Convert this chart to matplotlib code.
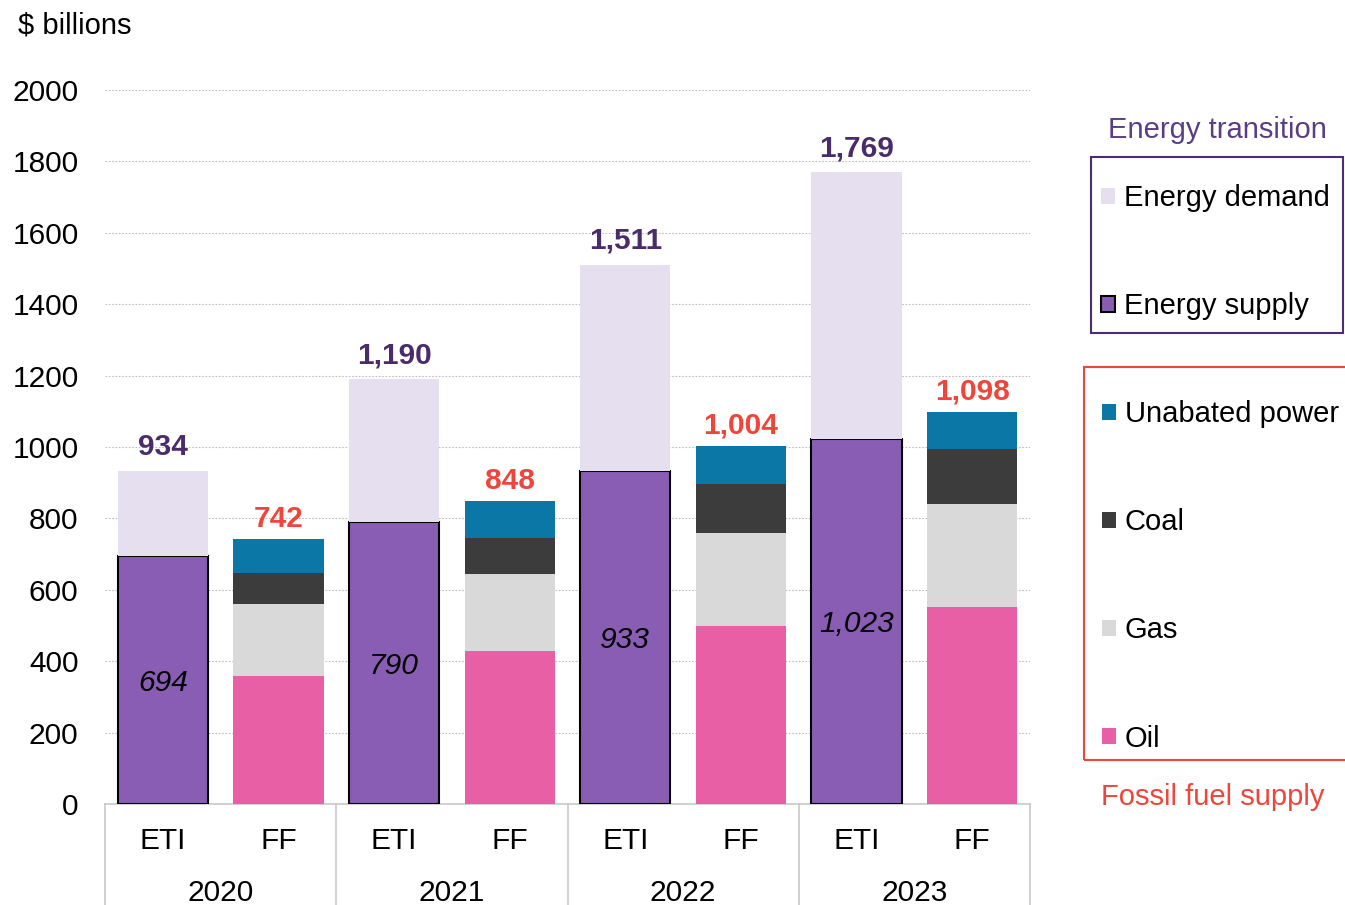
import numpy as np
import matplotlib
matplotlib.use('Agg')
from matplotlib import pyplot as plt
from matplotlib.patches import Rectangle

plt.rcParams['font.family'] = ['Liberation Sans', 'DejaVu Sans']

# data ($ billions)
years = ['2020', '2021', '2022', '2023']
energy_supply = [694, 790, 933, 1023]
energy_demand = [240, 400, 578, 746]
eti_totals = [934, 1190, 1511, 1769]

oil = [358, 429, 499, 552]
gas = [202, 215, 260, 288]
coal = [87, 101, 137, 154]
unabated_power = [95, 103, 108, 104]
ff_totals = [742, 848, 1004, 1098]

c_demand = '#e6dff0'
c_supply = '#8a5db4'
c_unabated = '#0b77a6'
c_coal = '#3c3c3c'
c_gas = '#d9d9d9'
c_oil = '#e85fa6'
c_purple_txt = '#4b2c6b'
c_red = '#f0453a'
c_sep = '#c8c8c8'

fs = 21.5

fig = plt.figure(figsize=(13.45, 9.05), dpi=100)
W, H = 1345, 905
ax = fig.add_axes([105 / W, 1 - 804 / H, 925 / W, 714 / H])

n = len(years)
x_eti = np.arange(n) * 2 + 0.5
x_ff = np.arange(n) * 2 + 1.5
bw = 0.78

b_supply = ax.bar(x_eti, energy_supply, bw, color=c_supply, edgecolor='black', linewidth=1.5, zorder=3)
b_demand = ax.bar(x_eti, energy_demand, bw, bottom=energy_supply, color=c_demand, linewidth=0, zorder=3)

bottom = np.zeros(n)
ff_handles = []
for vals, col in [(oil, c_oil), (gas, c_gas), (coal, c_coal), (unabated_power, c_unabated)]:
    h = ax.bar(x_ff, vals, bw, bottom=bottom, color=col, linewidth=0, zorder=3)
    ff_handles.append(h)
    bottom += np.array(vals)

# value labels
for xi, s, t in zip(x_eti, energy_supply, eti_totals):
    ax.text(xi, s / 2, f'{s:,}', ha='center', va='center_baseline', fontsize=fs, style='italic',
            color='black', zorder=4)
    ax.annotate(f'{t:,}', (xi, t), xytext=(0, 7), textcoords='offset points', ha='center', va='bottom',
                fontsize=fs, fontweight='bold', color=c_purple_txt)
for xi, t in zip(x_ff, ff_totals):
    ax.annotate(f'{t:,}', (xi, t), xytext=(0, 4.5), textcoords='offset points', ha='center', va='bottom',
                fontsize=fs, fontweight='bold', color=c_red)

ax.set_xlim(0, 2 * n)
ax.set_ylim(0, 2000)
ax.set_yticks(np.arange(0, 2001, 200))
ax.tick_params(axis='y', length=0, labelsize=fs, pad=19)
ax.set_xticks([])
ax.grid(axis='y', color='#bdbdbd', linestyle=(0, (1.5, 1.5)), linewidth=0.8, zorder=0)
for s in ['left', 'right', 'top']:
    ax.spines[s].set_visible(False)
ax.spines['bottom'].set_color(c_sep)
ax.spines['bottom'].set_linewidth(1.2)

# two-level category axis
tr = ax.get_xaxis_transform()
for xi in x_eti:
    ax.text(xi, -37 / 714, 'ETI', transform=tr, ha='center', va='center', fontsize=fs)
for xi in x_ff:
    ax.text(xi, -37 / 714, 'FF', transform=tr, ha='center', va='center', fontsize=fs)
for i, yr in enumerate(years):
    ax.text(2 * i + 1, -89 / 714, yr, transform=tr, ha='center', va='center', fontsize=fs)
for xs in range(0, 2 * n + 1, 2):
    ax.plot([xs, xs], [0, -101 / 714], transform=tr, color=c_sep, linewidth=1.2, clip_on=False)

fig.text(18 / W, 1 - 25 / H, '$ billions', fontsize=21, ha='left', va='center')

# legends (frames drawn separately)
leg_kw = dict(loc='upper left', frameon=False, fontsize=21, labelspacing=2.75, handlelength=0.48,
              handleheight=0.48, handletextpad=0.3, borderpad=0, borderaxespad=0)
leg1 = fig.legend([b_demand, b_supply], ['Energy demand', 'Energy supply'],
                  bbox_to_anchor=(1101 / W, 1 - 184 / H), **leg_kw)
fig.add_artist(Rectangle((1091 / W, 1 - 333 / H), 252 / W, 176 / H, transform=fig.transFigure,
                         fill=False, edgecolor='#4b2e6e', linewidth=1.5))
fig.text(1217 / W, 1 - 130 / H, 'Energy transition', fontsize=21, ha='center', va='center', color='#5a3e85')

leg2 = fig.legend(ff_handles[::-1], ['Unabated power', 'Coal', 'Gas', 'Oil'],
                  bbox_to_anchor=(1102 / W, 1 - 400 / H), **leg_kw)
fig.add_artist(Rectangle((1084 / W, 1 - 760 / H), 280 / W, 393 / H, transform=fig.transFigure,
                         fill=False, edgecolor=c_red, linewidth=1.5))
fig.text(1213 / W, 1 - 797 / H, 'Fossil fuel supply', fontsize=21, ha='center', va='center', color=c_red)

fig.savefig('out.png', dpi=100)
